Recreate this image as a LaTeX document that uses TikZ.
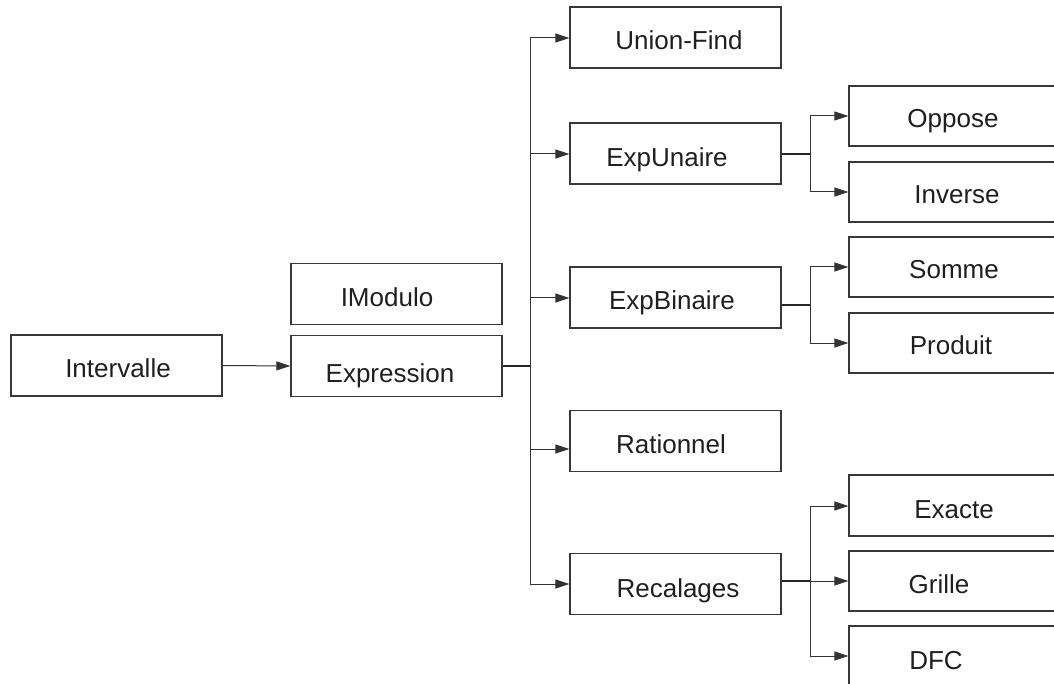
\documentclass[tikz,border=0pt]{standalone}
\usepackage{fontspec}
\setmainfont{Liberation Sans}
\usetikzlibrary{arrows.meta}
\begin{document}
\begin{tikzpicture}[x=1pt,y=-1pt,
  box/.style={draw=black!78, line width=1.3pt, inner sep=0pt, minimum height=61pt, minimum width=211pt},
  rbox/.style={box, minimum width=260pt},
  lbl/.style={anchor=base, inner sep=0pt, text=black!88, font=\fontsize{26pt}{30pt}\selectfont},
  conn/.style={draw=black!80, line width=1pt},
  outl/.style={draw=black!85, line width=1.8pt},
  arr/.style={conn, -{Triangle[length=14pt,width=9pt]}}]
\useasboundingbox (0,0) rectangle (1054,684);
\clip (0,0) rectangle (1054,684);
% boxes
\node[box] (iv) at (116.5,365.5) {};
\node[box] (im) at (396.5,294) {};
\node[box] (ex) at (396.5,366) {};
\node[box] (uf) at (675.5,37.5) {};
\node[box] (eu) at (675.5,153.5) {};
\node[box] (eb) at (675.5,297.5) {};
\node[box] (ra) at (675.5,441) {};
\node[box] (rc) at (675.5,584) {};
\node[rbox, minimum height=60pt] (op) at (979,116) {};
\node[rbox, minimum height=60pt] (in) at (979,192) {};
\node[rbox, minimum height=60pt] (so) at (979,267) {};
\node[rbox, minimum height=60pt] (pr) at (979,343) {};
\node[rbox] (xa) at (979,505.5) {};
\node[rbox, minimum height=60pt] (gr) at (979,581) {};
\node[rbox] (df) at (979,656.5) {};
% labels
\node[lbl] (iv-t) at (118,377) {Intervalle};
\node[lbl] (im-t) at (387,307) {IModulo};
\node[lbl] (ex-t) at (390,382) {Expression};
\node[lbl] (uf-t) at (679,50) {Union-Find};
\node[lbl] (eu-t) at (667,167) {ExpUnaire};
\node[lbl] (eb-t) at (672,309) {ExpBinaire};
\node[lbl] (ra-t) at (671,453) {Rationnel};
\node[lbl] (rc-t) at (678,597) {Recalages};
\node[lbl] (op-t) at (953,128) {Oppose};
\node[lbl] (in-t) at (957,204) {Inverse};
\node[lbl] (so-t) at (954,279) {Somme};
\node[lbl] (pr-t) at (951,354) {Produit};
\node[lbl] (xa-t) at (954,518) {Exacte};
\node[lbl] (gr-t) at (939,593) {Grille};
\node[lbl] (df-t) at (936,669) {DFC};
% coordinates
\coordinate (t0) at (530,366);
\coordinate (t1) at (530,38);
\coordinate (t2) at (530,154);
\coordinate (t3) at (530,298);
\coordinate (t4) at (530,449);
\coordinate (t5) at (530,584);
\coordinate (u0) at (810,154);
\coordinate (u1) at (810,116);
\coordinate (u2) at (810,192);
\coordinate (b0) at (810,305);
\coordinate (b1) at (810,267);
\coordinate (b2) at (810,343);
\coordinate (r0) at (810,581);
\coordinate (r1) at (810,506);
\coordinate (r3) at (810,656);
% connectors
\draw[arr] (iv.east) -- (ex.west);
\draw[outl] (ex.east) -- (t0);
\draw[conn] (t1) -- (t5);
\draw[arr] (t1) -- (uf.west |- t1);
\draw[arr] (t2) -- (eu.west |- t2);
\draw[arr] (t3) -- (eb.west |- t3);
\draw[arr] (t4) -- (ra.west |- t4);
\draw[arr] (t5) -- (rc.west |- t5);
\draw[outl] (eu.east |- u0) -- (u0);
\draw[conn] (u1) -- (u2);
\draw[arr] (u1) -- (op.west |- u1);
\draw[arr] (u2) -- (in.west |- u2);
\draw[outl] (eb.east |- b0) -- (b0);
\draw[conn] (b1) -- (b2);
\draw[arr] (b1) -- (so.west |- b1);
\draw[arr] (b2) -- (pr.west |- b2);
\draw[outl] (rc.east |- r0) -- (r0);
\draw[conn] (r1) -- (r3);
\draw[arr] (r1) -- (xa.west |- r1);
\draw[arr] (r0) -- (gr.west |- r0);
\draw[arr] (r3) -- (df.west |- r3);
\end{tikzpicture}
\end{document}
